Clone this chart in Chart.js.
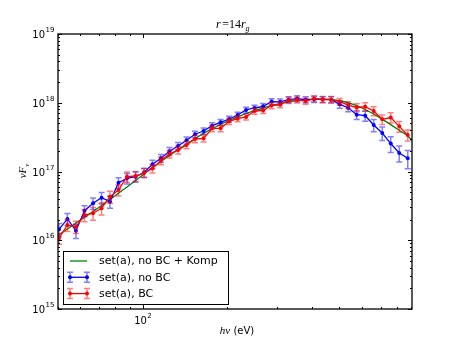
<!DOCTYPE html>
<html>
<head>
<meta charset="utf-8">
<script src="https://cdn.jsdelivr.net/npm/chart.js@4/dist/chart.umd.min.js"></script>
<style>
  html, body { margin: 0; padding: 0; background: #fff; }
  #wrap { width: 458px; height: 345px; }
</style>
</head>
<body>
<div id="wrap"><canvas id="chart" width="458" height="345"></canvas></div>
<script>
// photon energies (eV) of the spectral bins
const energies = [50.4, 54.0, 57.9, 62.1, 66.6, 71.4, 76.5, 82.0, 87.9, 94.3,
  101.1, 108.3, 116.1, 124.5, 133.5, 143.1, 153.4, 164.5, 176.4, 189.1,
  202.7, 217.3, 232.9, 249.7, 267.7, 287.0, 307.7, 329.9, 353.7, 379.2,
  406.4, 435.7, 467.2, 500.9, 537.0, 575.7, 617.2, 661.6, 709.4, 760.4,
  815.2, 874.0];

// set(a), no BC
const noBcFlux = [1.44e16, 2.04e16, 1.38e16, 2.69e16, 3.45e16, 4.16e16, 3.64e16, 6.87e16, 7.96e16, 8.40e16,
  9.67e16, 1.28e17, 1.56e17, 1.97e17, 2.35e17, 2.84e17, 3.48e17, 3.88e17, 4.64e17, 5.20e17,
  5.80e17, 6.64e17, 7.85e17, 8.39e17, 8.88e17, 1.04e18, 1.03e18, 1.11e18, 1.15e18, 1.11e18,
  1.12e18, 1.12e18, 1.11e18, 9.49e17, 8.47e17, 6.70e17, 6.48e17, 4.75e17, 3.63e17, 2.55e17,
  1.86e17, 1.56e17];
// relative errors
const noBcErr = [0.22, 0.2, 0.23, 0.18, 0.19, 0.19, 0.2, 0.18, 0.17, 0.17,
  0.15, 0.14, 0.13, 0.13, 0.12, 0.12, 0.11, 0.11, 0.1, 0.1,
  0.1, 0.1, 0.1, 0.1, 0.1, 0.1, 0.1, 0.1, 0.1, 0.1,
  0.1, 0.1, 0.11, 0.12, 0.13, 0.15, 0.17, 0.2, 0.22, 0.26,
  0.26, 0.3];

// set(a), BC
const bcFlux = [1.07e16, 1.67e16, 1.57e16, 2.33e16, 2.47e16, 2.92e16, 4.30e16, 5.38e16, 8.40e16, 8.60e16,
  9.51e16, 1.11e17, 1.44e17, 1.80e17, 2.06e17, 2.43e17, 2.97e17, 3.04e17, 4.25e17, 4.25e17,
  5.37e17, 5.86e17, 6.21e17, 7.59e17, 7.72e17, 9.12e17, 9.37e17, 1.08e18, 1.10e18, 1.06e18,
  1.15e18, 1.11e18, 1.11e18, 1.04e18, 9.27e17, 8.53e17, 8.77e17, 7.59e17, 5.74e17, 6.10e17,
  4.54e17, 3.40e17];
const bcErr = [0.18, 0.2, 0.2, 0.2, 0.21, 0.2, 0.2, 0.18, 0.17, 0.16,
  0.15, 0.14, 0.13, 0.13, 0.13, 0.12, 0.12, 0.12, 0.11, 0.11,
  0.1, 0.1, 0.1, 0.1, 0.1, 0.1, 0.1, 0.1, 0.1, 0.1,
  0.1, 0.1, 0.1, 0.11, 0.12, 0.13, 0.14, 0.15, 0.16, 0.17,
  0.18, 0.18];

// set(a), no BC + Komp (model curve)
const kompEnergies = [50, ...energies, 905];
const kompFlux = [1.15e16, 1.20e16, 1.46e16, 1.78e16, 2.14e16, 2.62e16, 3.20e16, 3.92e16, 4.82e16, 5.95e16,
  7.40e16, 9.20e16, 1.14e17, 1.40e17, 1.71e17, 2.08e17, 2.51e17, 3.02e17, 3.59e17, 4.22e17,
  4.86e17, 5.56e17, 6.25e17, 6.98e17, 7.71e17, 8.39e17, 9.09e17, 9.75e17, 1.03e18, 1.08e18,
  1.11e18, 1.13e18, 1.13e18, 1.12e18, 1.07e18, 1.00e18, 9.09e17, 7.98e17, 6.86e17, 5.77e17,
  4.81e17, 3.99e17, 3.31e17, 2.82e17];

const xMajor = [100];
const xMinor = [50, 60, 70, 80, 90, 200, 300, 400, 500, 600, 700, 800, 900];
const yExps = [15, 16, 17, 18, 19];

const SANS = '"DejaVu Sans", sans-serif';
const SERIF = '"Liberation Serif", "DejaVu Serif", serif';

function pts(xs, ys) {
  return xs.map((x, i) => ({ x: x, y: ys[i] }));
}

const errorBars = {
  id: "errorBars",
  beforeDatasetDraw(chart, args) {
    const ds = chart.data.datasets[args.index];
    if (!ds.errors) return;
    const xs = chart.scales.x;
    const ys = chart.scales.y;
    const ctx = chart.ctx;
    const a = chart.chartArea;
    ctx.save();
    ctx.beginPath();
    ctx.rect(a.left, a.top, a.right - a.left, a.bottom - a.top);
    ctx.clip();
    ctx.strokeStyle = ds.errorColor;
    ctx.lineWidth = 1.5;
    ds.data.forEach((p, i) => {
      const px = xs.getPixelForValue(p.x);
      const top = ys.getPixelForValue(p.y * (1 + ds.errors[i]));
      const bot = ys.getPixelForValue(p.y * (1 - ds.errors[i]));
      ctx.beginPath();
      ctx.moveTo(px, top);
      ctx.lineTo(px, bot);
      ctx.moveTo(px - 3, top);
      ctx.lineTo(px + 3, top);
      ctx.moveTo(px - 3, bot);
      ctx.lineTo(px + 3, bot);
      ctx.stroke();
    });
    ctx.restore();
  }
};

function powLabel(ctx, exp, x, y, align) {
  ctx.font = "10px " + SANS;
  const wb = ctx.measureText("10").width;
  ctx.font = "7px " + SANS;
  const we = ctx.measureText(String(exp)).width;
  let left = x;
  if (align === "right") left = x - wb - we;
  if (align === "center") left = x - (wb + we) / 2;
  ctx.textAlign = "left";
  ctx.textBaseline = "alphabetic";
  ctx.font = "10px " + SANS;
  ctx.fillText("10", left, y);
  ctx.font = "7px " + SANS;
  ctx.fillText(String(exp), left + wb + 0.5, y - 6);
}

const frame = {
  id: "frame",
  afterDraw(chart) {
    const ctx = chart.ctx;
    const a = chart.chartArea;
    const xs = chart.scales.x;
    const ys = chart.scales.y;
    ctx.save();
    ctx.strokeStyle = "#000";
    ctx.fillStyle = "#000";

    // ticks, pointing inward on all four sides
    ctx.lineWidth = 1;
    const vtick = (v, len) => {
      const px = Math.round(xs.getPixelForValue(v)) + 0.5;
      ctx.beginPath();
      ctx.moveTo(px, a.bottom);
      ctx.lineTo(px, a.bottom - len);
      ctx.moveTo(px, a.top);
      ctx.lineTo(px, a.top + len);
      ctx.stroke();
    };
    const htick = (v, len) => {
      const py = Math.round(ys.getPixelForValue(v)) + 0.5;
      ctx.beginPath();
      ctx.moveTo(a.left, py);
      ctx.lineTo(a.left + len, py);
      ctx.moveTo(a.right, py);
      ctx.lineTo(a.right - len, py);
      ctx.stroke();
    };
    xMajor.forEach(v => vtick(v, 4));
    xMinor.forEach(v => vtick(v, 2));
    yExps.forEach(e => {
      htick(Math.pow(10, e), 4);
      if (e < 19) {
        for (let m = 2; m <= 9; m++) htick(m * Math.pow(10, e), 2);
      }
    });

    // axes box
    ctx.lineWidth = 1.3;
    ctx.strokeRect(a.left, a.top, a.right - a.left, a.bottom - a.top);

    // tick labels
    yExps.forEach(e => {
      const py = ys.getPixelForValue(Math.pow(10, e));
      powLabel(ctx, e, 54, py + 4, "right");
    });
    xMajor.forEach(v => {
      const px = xs.getPixelForValue(v);
      powLabel(ctx, Math.round(Math.log10(v)), px, a.bottom + 15, "center");
    });

    // title  r = 14 r_g
    ctx.textBaseline = "alphabetic";
    ctx.textAlign = "left";
    let tx = 216;
    const ty = 28;
    ctx.font = "italic 12px " + SERIF;
    ctx.fillText("r", tx, ty);
    tx += ctx.measureText("r").width + 1.5;
    ctx.font = "12px " + SERIF;
    ctx.fillText("=14", tx, ty);
    tx += ctx.measureText("=14").width;
    ctx.font = "italic 12px " + SERIF;
    ctx.fillText("r", tx, ty);
    tx += ctx.measureText("r").width;
    ctx.font = "italic 8px " + SERIF;
    ctx.fillText("g", tx, ty + 3);

    // x label  hν (eV)
    ctx.font = "italic 11px " + SERIF;
    const wh = ctx.measureText("h\u03bd").width;
    ctx.font = "10px " + SANS;
    const wu = ctx.measureText(" (eV)").width;
    let lx = 237 - (wh + wu) / 2;
    ctx.font = "italic 11px " + SERIF;
    ctx.fillText("h\u03bd", lx, 334);
    ctx.font = "10px " + SANS;
    ctx.fillText(" (eV)", lx + wh, 334);

    // y label  νF_ν
    ctx.save();
    ctx.translate(26, 171);
    ctx.rotate(-Math.PI / 2);
    ctx.font = "italic 11px " + SERIF;
    const w1 = ctx.measureText("\u03bdF").width;
    ctx.font = "italic 7px " + SERIF;
    const w2 = ctx.measureText("\u03bd").width;
    let sx = -(w1 + w2) / 2;
    ctx.font = "italic 11px " + SERIF;
    ctx.fillText("\u03bdF", sx, 0);
    ctx.font = "italic 7px " + SERIF;
    ctx.fillText("\u03bd", sx + w1, 2.5);
    ctx.restore();

    // legend
    const bx = 63.5, by = 251.5, bw = 165, bh = 53;
    ctx.fillStyle = "#fff";
    ctx.fillRect(bx, by, bw, bh);
    ctx.lineWidth = 1;
    ctx.strokeStyle = "#000";
    ctx.strokeRect(bx, by, bw, bh);
    const rows = [
      { label: "set(a), no BC + Komp", color: "#008000", bar: null },
      { label: "set(a), no BC", color: "#0000ff", bar: "rgba(0,0,255,0.5)" },
      { label: "set(a), BC", color: "#ff0000", bar: "rgba(255,0,0,0.5)" }
    ];
    rows.forEach((r, i) => {
      const cy = 261 + i * 16.3;
      const x0 = 70, x1 = 87;
      if (r.bar) {
        ctx.strokeStyle = r.bar;
        ctx.lineWidth = 1.5;
        [x0, x1].forEach(xx => {
          ctx.beginPath();
          ctx.moveTo(xx, cy - 5);
          ctx.lineTo(xx, cy + 5);
          ctx.moveTo(xx - 3, cy - 5);
          ctx.lineTo(xx + 3, cy - 5);
          ctx.moveTo(xx - 3, cy + 5);
          ctx.lineTo(xx + 3, cy + 5);
          ctx.stroke();
        });
      }
      ctx.strokeStyle = r.color;
      ctx.lineWidth = 1.3;
      ctx.beginPath();
      ctx.moveTo(x0, cy);
      ctx.lineTo(x1, cy);
      ctx.stroke();
      if (r.bar) {
        ctx.fillStyle = r.color;
        [x0, x1].forEach(xx => {
          ctx.beginPath();
          ctx.arc(xx, cy, 2, 0, Math.PI * 2);
          ctx.fill();
        });
      }
      ctx.fillStyle = "#000";
      ctx.font = "11px " + SANS;
      ctx.textBaseline = "middle";
      ctx.fillText(r.label, 99, cy + 0.5);
    });
    ctx.restore();
  }
};

new Chart(document.getElementById("chart").getContext("2d"), {
  type: "scatter",
  data: {
    datasets: [
      {
        label: "set(a), BC",
        data: pts(energies, bcFlux),
        errors: bcErr,
        errorColor: "rgba(255,0,0,0.5)",
        showLine: true,
        borderColor: "#ff0000",
        backgroundColor: "#ff0000",
        borderWidth: 1.3,
        pointRadius: 2,
        pointBorderWidth: 0
      },
      {
        label: "set(a), no BC",
        data: pts(energies, noBcFlux),
        errors: noBcErr,
        errorColor: "rgba(0,0,255,0.5)",
        showLine: true,
        borderColor: "#0000ff",
        backgroundColor: "#0000ff",
        borderWidth: 1.3,
        pointRadius: 2,
        pointBorderWidth: 0
      },
      {
        label: "set(a), no BC + Komp",
        data: pts(kompEnergies, kompFlux),
        showLine: true,
        borderColor: "#008000",
        backgroundColor: "#008000",
        borderWidth: 1.3,
        pointRadius: 0
      }
    ]
  },
  options: {
    responsive: false,
    animation: false,
    layout: { padding: { left: 58, top: 34, right: 46, bottom: 36 } },
    scales: {
      x: { type: "logarithmic", min: 50, max: 905, display: false },
      y: { type: "logarithmic", min: 1e15, max: 1e19, display: false }
    },
    plugins: {
      legend: { display: false },
      tooltip: { enabled: false }
    }
  },
  plugins: [errorBars, frame]
});
</script>
</body>
</html>
